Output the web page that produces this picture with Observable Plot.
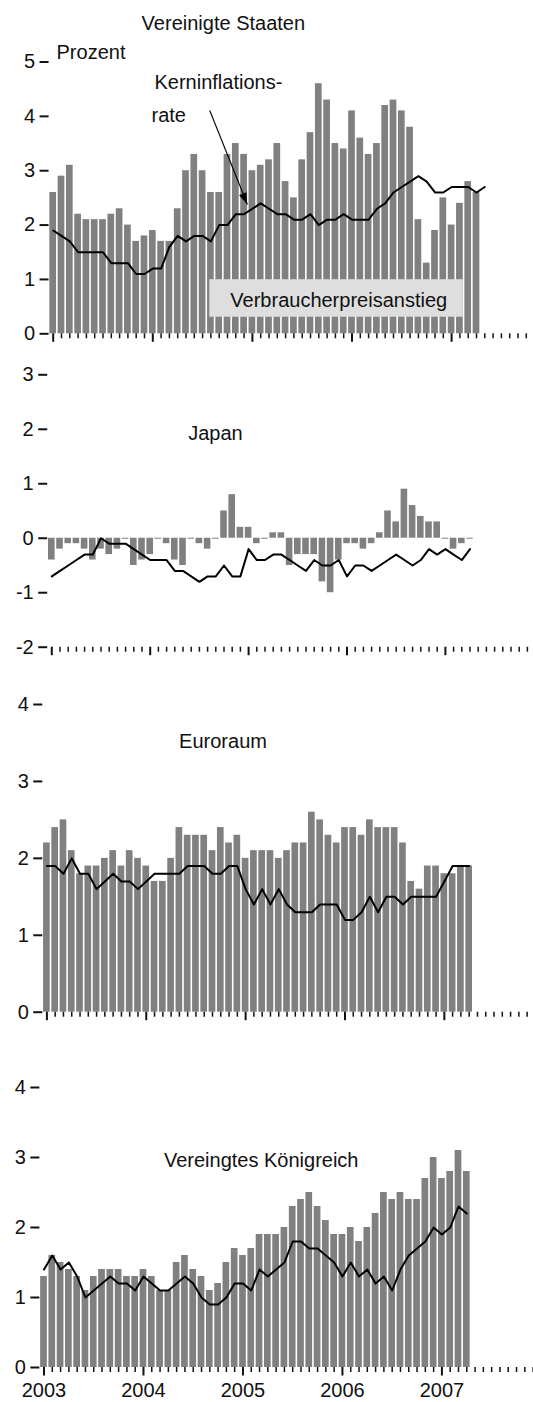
<!DOCTYPE html>
<html><head><meta charset="utf-8">
<script src="https://cdn.jsdelivr.net/npm/d3@7"></script>
<script src="https://cdn.jsdelivr.net/npm/@observablehq/plot@0.6"></script>
<style>
html,body{margin:0;padding:0;background:#fff;}
body{width:533px;height:1402px;overflow:hidden;position:relative;}
.panel{position:absolute;left:0;}
</style></head><body>
<div id="root"></div>
<script>
// Months on the axis: Jan 2003 ... Dec 2007 (index 0..59)
const years = [2003, 2004, 2005, 2006, 2007];
const axisMonthCount = 60;

// Vereinigte Staaten: Verbraucherpreisanstieg (bars) and Kerninflationsrate (line), % y/y
const usCPI = [2.6,2.9,3.1,2.2,2.1,2.1,2.1,2.2,2.3,2.0,1.7,1.8,
               1.9,1.7,1.7,2.3,3.0,3.3,3.0,2.6,2.6,3.3,3.5,3.3,
               3.0,3.1,3.2,3.5,2.8,2.5,3.2,3.7,4.6,4.3,3.5,3.4,
               4.1,3.6,3.3,3.5,4.2,4.3,4.1,3.8,2.1,1.3,1.9,2.5,
               2.0,2.4,2.8,2.6];
const usCore = [1.9,1.8,1.7,1.5,1.5,1.5,1.5,1.3,1.3,1.3,1.1,1.1,
                1.2,1.2,1.6,1.8,1.7,1.8,1.8,1.7,2.0,2.0,2.2,2.2,
                2.3,2.4,2.3,2.2,2.2,2.1,2.1,2.2,2.0,2.1,2.1,2.2,
                2.1,2.1,2.1,2.3,2.4,2.6,2.7,2.8,2.9,2.8,2.6,2.6,
                2.7,2.7,2.7,2.6,2.7];

// Japan
const jpCPI = [-0.4,-0.2,-0.1,-0.1,-0.2,-0.4,-0.2,-0.3,-0.2,0.0,-0.5,-0.4,
               -0.3,0.0,-0.1,-0.4,-0.5,0.0,-0.1,-0.2,0.0,0.5,0.8,0.2,
               0.2,-0.1,0.0,0.1,0.1,-0.5,-0.3,-0.3,-0.3,-0.8,-1.0,-0.4,
               -0.1,-0.1,-0.2,-0.1,0.1,0.5,0.3,0.9,0.6,0.4,0.3,0.3,
               0.0,-0.2,-0.1,0.0];
const jpCore = [-0.7,-0.6,-0.5,-0.4,-0.3,-0.3,0.0,-0.1,-0.1,-0.1,-0.2,-0.3,
                -0.4,-0.4,-0.4,-0.6,-0.6,-0.7,-0.8,-0.7,-0.7,-0.5,-0.7,-0.7,
                -0.2,-0.4,-0.4,-0.3,-0.3,-0.4,-0.5,-0.6,-0.4,-0.5,-0.5,-0.4,
                -0.7,-0.5,-0.5,-0.6,-0.5,-0.4,-0.3,-0.4,-0.5,-0.4,-0.2,-0.3,
                -0.2,-0.3,-0.4,-0.2];

// Euroraum
const euCPI = [2.2,2.4,2.5,2.1,1.8,1.9,1.9,2.0,2.1,1.9,2.1,2.0,
               1.9,1.7,1.7,2.0,2.4,2.3,2.3,2.3,2.1,2.4,2.2,2.3,
               2.0,2.1,2.1,2.1,2.0,2.1,2.2,2.2,2.6,2.5,2.3,2.2,
               2.4,2.4,2.3,2.5,2.4,2.4,2.4,2.2,1.7,1.6,1.9,1.9,
               1.8,1.8,1.9,1.9];
const euCore = [1.9,1.9,1.8,2.0,1.8,1.8,1.6,1.7,1.8,1.7,1.7,1.6,
                1.7,1.8,1.8,1.8,1.8,1.9,1.9,1.9,1.8,1.8,1.9,1.9,
                1.6,1.4,1.6,1.4,1.6,1.4,1.3,1.3,1.3,1.4,1.4,1.4,
                1.2,1.2,1.3,1.5,1.3,1.5,1.5,1.4,1.5,1.5,1.5,1.5,
                1.7,1.9,1.9,1.9];

// Vereinigtes Königreich
const ukCPI = [1.3,1.6,1.5,1.4,1.3,1.1,1.3,1.4,1.4,1.4,1.3,1.3,
               1.4,1.3,1.1,1.1,1.5,1.6,1.4,1.3,1.1,1.2,1.5,1.7,
               1.6,1.7,1.9,1.9,1.9,2.0,2.3,2.4,2.5,2.3,2.1,1.9,
               1.9,2.0,1.8,2.0,2.2,2.5,2.4,2.5,2.4,2.4,2.7,3.0,
               2.7,2.8,3.1,2.8];
const ukCore = [1.4,1.6,1.4,1.5,1.3,1.0,1.1,1.2,1.3,1.2,1.2,1.1,
                1.3,1.2,1.1,1.1,1.2,1.3,1.2,1.0,0.9,0.9,1.0,1.2,
                1.2,1.1,1.4,1.3,1.4,1.5,1.8,1.8,1.7,1.7,1.6,1.5,
                1.3,1.5,1.3,1.4,1.2,1.3,1.1,1.4,1.6,1.7,1.8,2.0,
                1.9,2.0,2.3,2.2];

const titles = ["Vereinigte Staaten", "Japan", "Euroraum", "Vereingtes Königreich"];

const FONT = '"Liberation Sans", Arial, sans-serif';
const BAR = "#808080";

const panels = [
  {title: titles[0], cpi: usCPI, core: usCore, yDomain: [0,5], yTicks: [0,1,2,3,4,5],
   top: 0, height: 350, mt: 61.5, mb: 16.7, x0: 52.7, step: 8.3, titleAt: [20.5, 5.58], annot: true},
  {title: titles[1], cpi: jpCPI, core: jpCore, yDomain: [-2,3], yTicks: [-2,-1,0,1,2,3],
   top: 350, height: 335, mt: 24.3, mb: 38.3, x0: 51.3, step: 8.2, titleAt: [19.96, 1.81]},
  {title: titles[2], cpi: euCPI, core: euCore, yDomain: [0,4], yTicks: [0,1,2,3,4],
   top: 685, height: 340, mt: 19, mb: 13.3, x0: 46.4, step: 8.28, titleAt: [21.27, 3.437]},
  {title: titles[3], cpi: ukCPI, core: ukCore, yDomain: [0,4], yTicks: [0,1,2,3,4],
   top: 1025, height: 377, mt: 62, mb: 35, x0: 43.5, step: 8.29, titleAt: [26.2, 2.871], yearLabels: true}
];

// annotation arrow (data coordinates: month index, percent)
const arrowUS = {x1: 18.86, y1: 4.108, x2: 23.4, y2: 2.379};

const monthIdx = d3.range(axisMonthCount);
const yearIdx = years.map((y, k) => k * 12);

function makePanel(p) {
  const bars = p.cpi.map((v, i) => ({i, v}));
  const line = p.core.map((v, i) => ({i, v}));
  const ml = p.x0 - p.step / 2;
  const marks = [
    Plot.rectY(bars.filter(d => d.v !== 0), {
      x1: d => d.i - 0.5, x2: d => d.i + 0.5, y1: 0, y2: "v",
      fill: BAR, insetLeft: 0.8, insetRight: 0.8
    }),
    Plot.ruleY(bars.filter(d => d.v === 0), {
      x1: d => d.i - 0.5, x2: d => d.i + 0.5, y: "v",
      stroke: BAR, strokeWidth: 1, insetLeft: 0.8, insetRight: 0.8
    })
  ];
  if (p.annot) {
    marks.push(
      Plot.rect([{x1: 18.86, x2: 49.4, y1: 0.305, y2: 0.995}], {
        x1: "x1", x2: "x2", y1: "y1", y2: "y2", fill: "#dedede"
      }),
      Plot.text([{x: 34.4, y: 0.489, t: "Verbraucherpreisanstieg"}], {
        x: "x", y: "y", text: "t", textAnchor: "middle", lineAnchor: "bottom",
        fontSize: 20, fill: "#111"
      })
    );
  }
  marks.push(Plot.line(line, {x: "i", y: "v", stroke: "#000", strokeWidth: 2}));
  if (p.annot) {
    marks.push(
      Plot.text([{x: 0.4, y: 5.06, t: "Prozent"},
                 {x: 12.2, y: 4.507, t: "Kerninflations-"},
                 {x: 11.84, y: 3.905, t: "rate"}], {
        x: "x", y: "y", text: "t", textAnchor: "start", lineAnchor: "bottom",
        fontSize: 20, fill: "#111"
      }),
      Plot.link([arrowUS], {
        x1: "x1", y1: "y1", x2: "x2", y2: "y2", stroke: "#000", strokeWidth: 1.1
      })
    );
  }
  marks.push(
    Plot.text([{x: p.titleAt[0], y: p.titleAt[1], t: p.title}], {
      x: "x", y: "y", text: "t", textAnchor: "middle", lineAnchor: "bottom",
      fontSize: 20, fill: "#111"
    }),
    Plot.axisY(p.yTicks, {
      tickSize: 9, tickPadding: 5, strokeWidth: 2, stroke: "#111",
      tickFormat: d => String(d), fontSize: 20, label: null, fill: "#111"
    }),
    Plot.axisX(monthIdx.filter(i => i % 12 !== 0), {
      tickSize: 5, strokeWidth: 1.5, stroke: "#111", tickFormat: () => "", label: null
    }),
    Plot.axisX(yearIdx, {
      tickSize: 8.5, strokeWidth: 2, stroke: "#111", tickPadding: 7, label: null,
      fontSize: 20, fill: "#111",
      tickFormat: p.yearLabels ? (d => String(years[d / 12])) : () => ""
    })
  );
  const chart = Plot.plot({
    width: 533,
    height: p.height,
    marginTop: p.mt,
    marginBottom: p.mb,
    marginLeft: ml,
    marginRight: 0,
    style: {fontFamily: FONT, fontSize: "20px", background: "transparent", overflow: "hidden"},
    x: {type: "linear", domain: [-0.5, axisMonthCount - 0.5],
        range: [ml, ml + axisMonthCount * p.step], axis: null},
    y: {domain: p.yDomain, axis: null, label: null},
    marks
  });
  if (p.annot) {
    // filled arrowhead placed through the chart's own scales
    const sx = chart.scale("x"), sy = chart.scale("y");
    const ax = sx.apply(arrowUS.x1), ay = sy.apply(arrowUS.y1);
    const tx = sx.apply(arrowUS.x2), ty = sy.apply(arrowUS.y2);
    const len = Math.hypot(tx - ax, ty - ay);
    const ux = (tx - ax) / len, uy = (ty - ay) / len;
    const hl = 11, hw = 4;
    const bx = tx - hl * ux, by = ty - hl * uy;
    const pts = [[tx, ty], [bx - hw * uy, by + hw * ux], [bx + hw * uy, by - hw * ux]];
    const poly = document.createElementNS("http://www.w3.org/2000/svg", "polygon");
    poly.setAttribute("points", pts.map(q => q.join(",")).join(" "));
    poly.setAttribute("fill", "#000");
    chart.appendChild(poly);
  }
  return chart;
}

const root = document.getElementById("root");
for (const p of panels) {
  const div = document.createElement("div");
  div.className = "panel";
  div.style.top = p.top + "px";
  div.appendChild(makePanel(p));
  root.appendChild(div);
}
</script>
</body></html>
